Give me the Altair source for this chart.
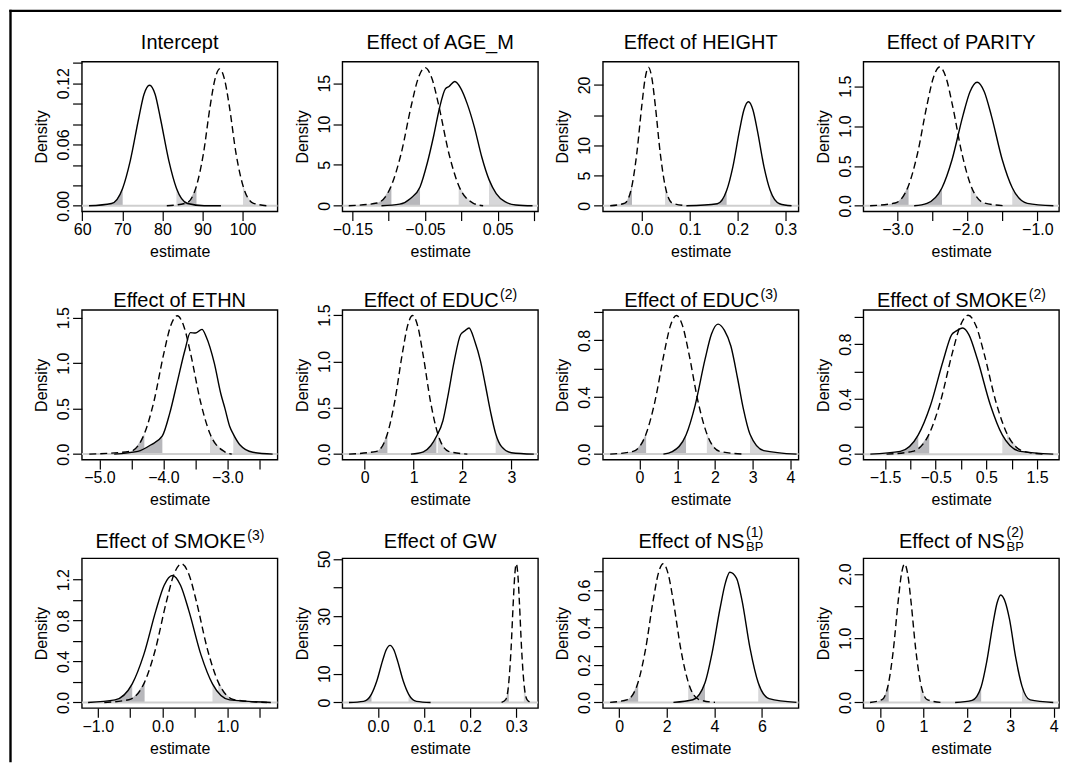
import altair as alt
import pandas as pd

FONT = "Liberation Sans"

# ---------------- titles ----------------
TITLES = ["Intercept", "Effect of AGE_M", "Effect of HEIGHT", "Effect of PARITY",
          "Effect of ETHN", "Effect of EDUC", "Effect of EDUC", "Effect of SMOKE",
          "Effect of SMOKE", "Effect of GW", "Effect of NS", "Effect of NS"]
TITLE_SUP = ["", "", "", "", "", "(2)", "(3)", "(2)", "(3)", "", "(1)", "(2)"]
TITLE_SUB = ["", "", "", "", "", "", "", "", "", "", "BP", "BP"]

# ---------------- curves ----------------
S1X = [61.7, 67.3, 70.1, 72.0, 74.1, 75.4, 76.8, 78.2, 79.5, 81.6, 83.5, 86.3, 90.4, 94.6]
S1Y = [0, 0.0023, 0.0173, 0.0443, 0.0857, 0.1089, 0.118, 0.1089, 0.0857, 0.0443, 0.0173, 0.0023, 0.0001, 0]
D1X = [81.1, 86.0, 88.5, 90.2, 91.9, 93.1, 94.3, 95.5, 96.7, 98.4, 100.1, 102.6, 106.2]
D1Y = [0, 0.0027, 0.0196, 0.0503, 0.0973, 0.1237, 0.134, 0.1237, 0.0973, 0.0503, 0.0196, 0.0027, 0]

S2X = [-0.110, -0.085, -0.070, -0.0569, -0.047, -0.038, -0.030, -0.022, -0.017, -0.009, -0.001, 0.008, 0.018, 0.028, 0.0381, 0.048, 0.060, 0.075, 0.098]
S2Y = [0, 0.2, 0.9, 2.3, 5.2, 8.6, 12.0, 14.3, 14.6, 15.2, 14.4, 12.5, 9.6, 6.0, 3.2, 1.5, 0.5, 0.1, 0]
D2X = [-0.155, -0.116, -0.0963, -0.083, -0.0689, -0.0594, -0.05, -0.0406, -0.0311, -0.017, -0.0037, 0.0161, 0.03]
D2Y = [0, 0.335, 2.48, 6.34, 12.27, 15.6, 16.9, 15.6, 12.27, 6.34, 2.48, 0.335, 0]

S3X = [0.094, 0.1575, 0.177, 0.19, 0.2039, 0.2132, 0.2225, 0.2318, 0.2411, 0.255, 0.268, 0.2875, 0.3125]
S3Y = [0, 0.34, 2.52, 6.45, 12.49, 15.88, 17.2, 15.88, 12.49, 6.45, 2.52, 0.34, 0]
D3X = [-0.066, -0.0353, -0.0205, -0.0106, 0.0, 0.007, 0.014, 0.021, 0.0281, 0.0386, 0.0485, 0.0633, 0.094]
D3Y = [0, 0.45, 3.35, 8.6, 16.6, 21.1, 22.9, 21.1, 16.6, 8.6, 3.35, 0.45, 0]

S4X = [-2.76, -2.577, -2.362, -2.218, -2.065, -1.962, -1.86, -1.758, -1.655, -1.502, -1.358, -1.143, -0.77]
S4Y = [0, 0.031, 0.227, 0.581, 1.125, 1.431, 1.55, 1.431, 1.125, 0.581, 0.227, 0.031, 0]
D4X = [-3.39, -3.031, -2.84, -2.713, -2.577, -2.486, -2.395, -2.304, -2.213, -2.077, -1.95, -1.759, -1.45]
D4Y = [0, 0.035, 0.255, 0.653, 1.263, 1.606, 1.74, 1.606, 1.263, 0.653, 0.255, 0.035, 0]

S5X = [-4.77, -4.40, -4.20, -4.016, -3.90, -3.78, -3.66, -3.578, -3.50, -3.396, -3.33, -3.203, -3.10, -3.036, -2.96, -2.906, -2.80, -2.60, -2.29]
S5Y = [0, 0.03, 0.10, 0.20, 0.45, 0.80, 1.15, 1.335, 1.33, 1.371, 1.29, 1.0, 0.66, 0.50, 0.30, 0.22, 0.10, 0.02, 0]
D5X = [-5.16, -4.518, -4.298, -4.151, -3.994, -3.889, -3.784, -3.679, -3.574, -3.417, -3.27, -3.05, -2.93]
D5Y = [0, 0.030, 0.223, 0.57, 1.104, 1.403, 1.52, 1.403, 1.104, 0.57, 0.223, 0.030, 0]

S6X = [0.946, 1.20, 1.35, 1.466, 1.60, 1.70, 1.83, 1.963, 2.05, 2.134, 2.25, 2.37, 2.47, 2.577, 2.679, 2.80, 3.00, 3.46]
S6Y = [0, 0.025, 0.09, 0.19, 0.36, 0.62, 1.0, 1.29, 1.33, 1.361, 1.22, 1.0, 0.74, 0.45, 0.22, 0.08, 0.015, 0]
D6X = [-0.32, 0.244, 0.4645, 0.612, 0.77, 0.875, 0.98, 1.085, 1.19, 1.348, 1.495, 1.716, 2.10]
D6Y = [0, 0.030, 0.219, 0.561, 1.085, 1.38, 1.495, 1.38, 1.085, 0.561, 0.219, 0.030, 0]

S7X = [0.634, 0.869, 1.233, 1.474, 1.734, 1.907, 2.08, 2.25, 2.42, 2.60, 2.75, 2.927, 3.29, 4.16]
S7Y = [0, 0.018, 0.134, 0.343, 0.664, 0.844, 0.914, 0.87, 0.76, 0.53, 0.32, 0.14, 0.025, 0]
D7X = [-0.775, -0.168, 0.176, 0.406, 0.652, 0.816, 0.98, 1.144, 1.308, 1.554, 1.784, 2.128, 2.79]
D7Y = [0, 0.019, 0.143, 0.366, 0.708, 0.9, 0.975, 0.9, 0.708, 0.366, 0.143, 0.019, 0]

S8X = [-1.79, -1.199, -0.844, -0.607, -0.353, -0.184, -0.1, 0.033, 0.154, 0.323, 0.577, 0.814, 1.169, 1.82]
S8Y = [0, 0.02, 0.14, 0.35, 0.68, 0.87, 0.895, 0.918, 0.87, 0.69, 0.36, 0.14, 0.02, 0]
D8X = [-1.47, -0.958, -0.628, -0.409, -0.174, -0.017, 0.14, 0.297, 0.454, 0.689, 0.908, 1.238, 1.62]
D8Y = [0, 0.02, 0.148, 0.379, 0.733, 0.932, 1.01, 0.932, 0.733, 0.379, 0.148, 0.02, 0]

S9X = [-1.15, -0.735, -0.469, -0.292, -0.103, 0.024, 0.15, 0.276, 0.403, 0.592, 0.769, 1.035, 1.67]
S9Y = [0, 0.025, 0.182, 0.465, 0.9, 1.145, 1.24, 1.145, 0.9, 0.465, 0.182, 0.025, 0]
D9X = [-0.9, -0.522, -0.278, -0.116, 0.058, 0.174, 0.29, 0.406, 0.522, 0.696, 0.858, 1.102, 1.61]
D9Y = [0, 0.027, 0.199, 0.508, 0.984, 1.251, 1.355, 1.251, 0.984, 0.508, 0.199, 0.027, 0]

S10X = [-0.063, -0.0314, -0.0142, -0.0027, 0.0096, 0.0178, 0.026, 0.0342, 0.0424, 0.0547, 0.0662, 0.0834, 0.114]
S10Y = [0, 0.39, 2.92, 7.46, 14.45, 18.37, 19.9, 18.37, 14.45, 7.46, 2.92, 0.39, 0]
D10X = [0.268, 0.2768, 0.2837, 0.2884, 0.2934, 0.2967, 0.3, 0.3033, 0.3066, 0.3116, 0.3163, 0.3232, 0.332]
D10Y = [0, 0.96, 7.08, 18.1, 35.1, 44.6, 48.3, 44.6, 35.1, 18.1, 7.08, 0.96, 0]

S11X = [2.28, 3.10, 3.608, 3.90, 4.243, 4.471, 4.65, 4.93, 5.157, 5.5, 5.846, 6.30, 7.45]
S11Y = [0, 0.014, 0.105, 0.261, 0.505, 0.642, 0.696, 0.665, 0.55, 0.29, 0.105, 0.02, 0]
D11X = [-0.38, 0.349, 0.799, 1.1, 1.421, 1.636, 1.85, 2.064, 2.279, 2.6, 2.901, 3.351, 4.03]
D11Y = [0, 0.015, 0.109, 0.278, 0.539, 0.685, 0.742, 0.685, 0.539, 0.278, 0.109, 0.015, 0]

S12X = [1.73, 2.121, 2.33, 2.456, 2.599, 2.694, 2.78, 2.886, 2.981, 3.125, 3.27, 3.459, 3.99]
S12Y = [0, 0.033, 0.245, 0.627, 1.215, 1.544, 1.673, 1.56, 1.3, 0.7, 0.255, 0.04, 0]
D12X = [-0.23, 0.044, 0.2, 0.305, 0.416, 0.491, 0.565, 0.639, 0.714, 0.825, 0.93, 1.086, 1.42]
D12Y = [0, 0.043, 0.316, 0.809, 1.565, 1.99, 2.156, 1.99, 1.565, 0.809, 0.316, 0.043, 0]

# 2.5% / 97.5% limits of the shaded tails
SOLID_Q = [(70.1, 83.5), (-0.0569, 0.0381), (0.177, 0.268), (-2.362, -1.358),
           (-4.016, -2.906), (1.466, 2.679), (1.233, 2.927), (-0.844, 0.814),
           (-0.469, 0.769), (-0.0142, 0.0662), (3.608, 5.846), (2.33, 3.27)]
DASH_Q = [(88.5, 100.1), (-0.0963, -0.0037), (-0.0205, 0.0485), (-2.84, -1.95),
          (-4.298, -3.27), (0.4645, 1.495), (0.176, 1.784), (-0.628, 0.908),
          (-0.278, 0.858), (0.2837, 0.3163), (0.799, 2.901), (0.2, 0.93)]

# ---------------- axes ----------------
X_DOMAINS = [[59.92, 108.7], [-0.1638, 0.1055], [-0.0813, 0.327], [-3.486, -0.690],
             [-5.276, -2.214], [-0.457, 3.545], [-0.969, 4.211], [-1.927, 1.933],
             [-1.246, 1.772], [-0.0774, 0.347], [-0.685, 7.538], [-0.384, 4.123]]
Y_DOMAINS = [[-0.0054, 0.1411], [-0.68, 17.64], [-0.92, 23.85], [-0.0695, 1.808],
             [-0.061, 1.584], [-0.060, 1.555], [-0.039, 1.014], [-0.040, 1.049],
             [-0.054, 1.409], [-1.93, 50.23], [-0.030, 0.771], [-0.086, 2.244]]
X_TICKS = [[60, 70, 80, 90, 100], [-0.15, -0.1, -0.05, 0.0, 0.05, 0.1], [0.0, 0.1, 0.2, 0.3],
           [-3.0, -2.5, -2.0, -1.5, -1.0], [-5.0, -4.5, -4.0, -3.5, -3.0, -2.5], [0, 1, 2, 3],
           [0, 1, 2, 3, 4], [-1.5, -1.0, -0.5, 0.0, 0.5, 1.0, 1.5], [-1.0, -0.5, 0.0, 0.5, 1.0, 1.5],
           [0.0, 0.1, 0.2, 0.3], [0, 2, 4, 6], [0, 1, 2, 3, 4]]
X_LABELS = [[60, 70, 80, 90, 100], [-0.15, -0.05, 0.05], [0.0, 0.1, 0.2, 0.3],
            [-3.0, -2.0, -1.0], [-5.0, -4.0, -3.0], [0, 1, 2, 3],
            [0, 1, 2, 3, 4], [-1.5, -0.5, 0.5, 1.5], [-1.0, 0.0, 1.0],
            [0.0, 0.1, 0.2, 0.3], [0, 2, 4, 6], [0, 1, 2, 3, 4]]
X_FMT = ["d", ".2f", ".1f", ".1f", ".1f", "d", "d", ".1f", ".1f", ".1f", "d", "d"]
Y_TICKS = [[0, 0.02, 0.04, 0.06, 0.08, 0.1, 0.12, 0.14], [0, 5, 10, 15], [0, 5, 10, 15, 20],
           [0.0, 0.5, 1.0, 1.5], [0.0, 0.5, 1.0, 1.5], [0.0, 0.5, 1.0, 1.5],
           [0.0, 0.2, 0.4, 0.6, 0.8, 1.0], [0.0, 0.2, 0.4, 0.6, 0.8, 1.0],
           [0.0, 0.2, 0.4, 0.6, 0.8, 1.0, 1.2], [0, 10, 20, 30, 40, 50],
           [0.0, 0.1, 0.2, 0.3, 0.4, 0.5, 0.6, 0.7], [0.0, 0.5, 1.0, 1.5, 2.0]]
Y_LABELS = [[0, 0.06, 0.12], [0, 5, 10, 15], [0, 5, 10, 20],
            [0.0, 0.5, 1.0, 1.5], [0.0, 0.5, 1.0, 1.5], [0.0, 0.5, 1.0, 1.5],
            [0.0, 0.4, 0.8], [0.0, 0.4, 0.8], [0.0, 0.4, 0.8, 1.2], [0, 10, 30, 50],
            [0.0, 0.2, 0.4, 0.6], [0.0, 1.0, 2.0]]
Y_FMT = [".2f", "d", "d", ".1f", ".1f", ".1f", ".1f", ".1f", ".1f", "d", ".1f", ".1f"]

SOLID_X = [S1X, S2X, S3X, S4X, S5X, S6X, S7X, S8X, S9X, S10X, S11X, S12X]
SOLID_Y = [S1Y, S2Y, S3Y, S4Y, S5Y, S6Y, S7Y, S8Y, S9Y, S10Y, S11Y, S12Y]
DASH_X = [D1X, D2X, D3X, D4X, D5X, D6X, D7X, D8X, D9X, D10X, D11X, D12X]
DASH_Y = [D1Y, D2Y, D3Y, D4Y, D5Y, D6Y, D7Y, D8Y, D9Y, D10Y, D11Y, D12Y]

# ---------------- styling / layout ----------------
W, H = 196, 150
DARK = "#b7b7bb"
LIGHT = "#d7d7d9"
BASE = "#cfcfcf"
ROW_TITLE_DY = [-13, -3, -10]
MAIN_FS, SUP_FS, SUB_FS = 20, 14, 13

CW = {"E": 667, "f": 278, "e": 556, "c": 500, "t": 278, " ": 278, "o": 556, "D": 722,
      "U": 722, "C": 722, "S": 667, "M": 833, "O": 778, "K": 667, "N": 722, "B": 667,
      "P": 667, "(": 333, ")": 333}


def text_width(s, size):
    return sum(CW.get(c, 556) for c in s) * size / 1000.0


def label_expr(vals):
    cond = " || ".join("datum.value === %r" % v for v in vals)
    return "(%s) ? datum.label : ''" % cond


ONE = pd.DataFrame({"a": [0]})


def tail(xs, ys, keep):
    pts = [(a, b) for a, b in zip(xs, ys) if keep(a)]
    return pd.DataFrame({"x": [p[0] for p in pts], "y": [p[1] for p in pts]})


def make_panel(i):
    row = i // 4
    xsc = alt.Scale(domain=X_DOMAINS[i], nice=False, zero=False)
    ysc = alt.Scale(domain=Y_DOMAINS[i], nice=False, zero=False)
    xax = alt.Axis(values=X_TICKS[i], labelExpr=label_expr(X_LABELS[i]),
                   format=X_FMT[i], title="estimate")
    yax = alt.Axis(values=Y_TICKS[i], labelExpr=label_expr(Y_LABELS[i]),
                   format=Y_FMT[i], title="Density", labelAngle=270,
                   labelAlign="center", labelBaseline="bottom")
    X = alt.X("x:Q", scale=xsc, axis=xax)
    Y = alt.Y("y:Q", scale=ysc, axis=yax)

    curves = [(SOLID_X[i], SOLID_Y[i], SOLID_Q[i], False),
              (DASH_X[i], DASH_Y[i], DASH_Q[i], True)]
    layers = []
    for cx, cy, (lo, hi), _ in curves:
        left = tail(cx, cy, lambda a, lo=lo: a <= lo)
        right = tail(cx, cy, lambda a, hi=hi: a >= hi)
        layers.append(alt.Chart(left).mark_area(interpolate="monotone", color=DARK, opacity=1)
                      .encode(x=X, y=Y, y2=alt.datum(0)))
        layers.append(alt.Chart(right).mark_area(interpolate="monotone", color=LIGHT, opacity=1)
                      .encode(x=X, y=Y, y2=alt.datum(0)))
    layers.append(alt.Chart(pd.DataFrame({"y": [0.0]}))
                  .mark_rule(color=BASE, strokeWidth=2).encode(y=Y))
    for cx, cy, _, dashed in curves:
        kw = dict(interpolate="monotone", color="black", strokeWidth=1.4)
        if dashed:
            kw["strokeDash"] = [7, 4]
        layers.append(alt.Chart(pd.DataFrame({"x": cx, "y": cy})).mark_line(**kw)
                      .encode(x=X, y=Y))

    dy = ROW_TITLE_DY[row]
    sup, sub = TITLE_SUP[i], TITLE_SUB[i]
    if not sup and not sub:
        layers.append(alt.Chart(ONE).mark_text(text=TITLES[i], font=FONT, fontSize=MAIN_FS,
                                               align="center", baseline="alphabetic", color="black")
                      .encode(x=alt.value(W / 2), y=alt.value(dy)))
    else:
        main_w = text_width(TITLES[i], MAIN_FS)
        scr_w = max(text_width(sup, SUP_FS), text_width(sub, SUB_FS))
        gap = 1.5
        left_x = W / 2 - (main_w + gap + scr_w) / 2
        end_x = left_x + main_w
        layers.append(alt.Chart(ONE).mark_text(text=TITLES[i], font=FONT, fontSize=MAIN_FS,
                                               align="right", baseline="alphabetic", color="black")
                      .encode(x=alt.value(end_x), y=alt.value(dy)))
        raise_by = 11 if sub else 8
        layers.append(alt.Chart(ONE).mark_text(text=sup, font=FONT, fontSize=SUP_FS,
                                               align="left", baseline="alphabetic", color="black")
                      .encode(x=alt.value(end_x + gap), y=alt.value(dy - raise_by)))
        if sub:
            layers.append(alt.Chart(ONE).mark_text(text=sub, font=FONT, fontSize=SUB_FS,
                                                   align="left", baseline="alphabetic", color="black")
                          .encode(x=alt.value(end_x + gap), y=alt.value(dy + 3)))

    if i == 0:
        # outer figure frame (top and left edges), drawn as filled bars
        layers.append(alt.Chart(ONE).mark_rect(color="black", strokeWidth=0)
                      .encode(x=alt.value(-72.7), x2=alt.value(981.3),
                              y=alt.value(-52), y2=alt.value(-49.6)))
        layers.append(alt.Chart(ONE).mark_rect(color="black", strokeWidth=0)
                      .encode(x=alt.value(-72.7), x2=alt.value(-70.3),
                              y=alt.value(-52), y2=alt.value(702)))

    return alt.layer(*layers).properties(width=W, height=H)


panels = [make_panel(i) for i in range(12)]

chart = alt.concat(*panels, columns=4, spacing={"row": 98.8, "column": 65},
                   bounds="flush").properties(padding=0, background="white")

chart = chart.configure_view(stroke="black", strokeWidth=1.4).configure_axis(
    domain=False, grid=False, ticks=True, tickColor="black", tickWidth=1.2, tickSize=9.3,
    labelFont=FONT, labelFontSize=16, labelColor="black", labelPadding=1,
    titleFont=FONT, titleFontSize=16, titleFontWeight="normal", titleColor="black",
    titlePadding=6, labelOverlap=False, labelFlush=False)

chart.save("out.html", embed_options={"renderer": "svg", "actions": False})
